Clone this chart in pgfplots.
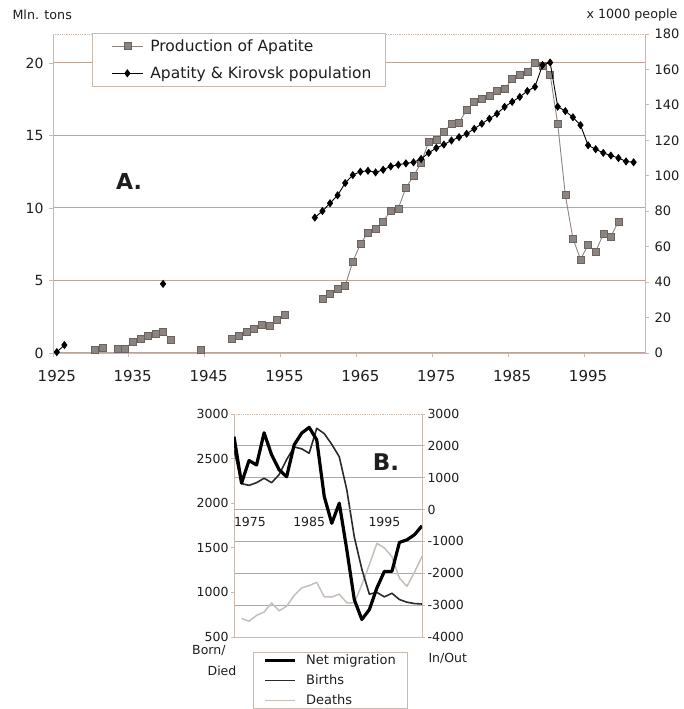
\documentclass[border=0pt]{standalone}
\usepackage{pgfplots}
\pgfplotsset{compat=1.18}
\usepackage{fontspec}
\setmainfont{DejaVu Sans}
\definecolor{gridc}{HTML}{B9A699}
\definecolor{axl}{HTML}{C9BAAF}
\definecolor{apa}{HTML}{8C8480}
\definecolor{apadark}{HTML}{6B6360}
\definecolor{deathc}{HTML}{C6BEB9}
\definecolor{birthc}{HTML}{2A2A2A}
\definecolor{txt}{HTML}{1E1E1E}
\tikzset{
  apastyle/.style={color=apa, line width=0.9pt, mark=square*, mark size=3.5pt, mark options={solid, fill=apa, draw=apadark, line width=0.5pt}},
  popstyle/.style={color=black, line width=0.9pt, mark=diamond*, mark size=3.4pt, mark options={solid, fill=black}},
  migstyle/.style={color=black, line width=3.2pt, line join=round},
  birthstyle/.style={color=birthc, line width=1.6pt, line join=round},
  deathstyle/.style={color=deathc, line width=1.5pt, line join=round},
}
\pgfplotsset{
  noarrows/.style={axis line style={-}, every inner x axis line/.append style={-}, every outer x axis line/.append style={-}, every inner y axis line/.append style={-}, every outer y axis line/.append style={-}},
  every axis/.append style={/pgf/number format/assume math mode=true, /pgf/number format/1000 sep={}},
}
\begin{document}
\begin{tikzpicture}
\path[use as bounding box] (0pt,0pt) rectangle (683pt,709pt);

% ---------------- Chart A ----------------
\begin{axis}[
  at={(53pt,356pt)}, anchor=south west,
  scale only axis, width=592pt, height=319pt,
  xmin=1924.5, xmax=2002.5, ymin=0, ymax=22,
  axis x line*=bottom, axis y line*=left, noarrows,
  axis line style={axl, line width=0.9pt},
  xtick={1924.5,1934.5,1944.5,1954.5,1964.5,1974.5,1984.5,1994.5},
  xticklabels={1925,1935,1945,1955,1965,1975,1985,1995},
  xticklabel style={font=\fontsize{15}{17}\selectfont, text=txt, xshift=3.8pt, yshift=-10pt},
  ytick={0,5,10,15,20},
  yticklabel style={font=\fontsize{14}{16}\selectfont, text=txt, xshift=-2pt},
  ymajorgrids, grid style={gridc, line width=1pt},
  tick style={axl, line width=0.8pt}, tick align=outside, major tick length=4pt,
  unbounded coords=jump,
]
\addplot[apastyle] table[row sep=\\] {
x y\\
1930 0.2\\ 1931 0.39\\ 1932 nan\\
1933 0.26\\ 1934 0.32\\ 1935 0.78\\ 1936 1.01\\ 1937 1.17\\ 1938 1.31\\ 1939 1.47\\ 1940 0.9\\ 1941 nan\\
1944 0.2\\ 1945 nan\\
1948 0.97\\ 1949 1.17\\ 1950 1.47\\ 1951 1.7\\ 1952 1.93\\ 1953 1.86\\ 1954 2.3\\ 1955 2.67\\ 1956 nan\\
1960 3.77\\ 1961 4.12\\ 1962 4.46\\ 1963 4.64\\ 1964 6.3\\ 1965 7.52\\ 1966 8.3\\ 1967 8.55\\ 1968 9.06\\ 1969 9.83\\
1970 9.98\\ 1971 11.4\\ 1972 12.2\\ 1973 13.1\\ 1974 14.58\\ 1975 14.72\\ 1976 15.25\\ 1977 15.8\\ 1978 15.9\\ 1979 16.76\\
1980 17.3\\ 1981 17.55\\ 1982 17.72\\ 1983 18.12\\ 1984 18.19\\ 1985 18.9\\ 1986 19.2\\ 1987 19.4\\ 1988 20.0\\ 1989 19.8\\
1990 19.2\\ 1991 15.8\\ 1992 10.9\\ 1993 7.9\\ 1994 6.46\\ 1995 7.45\\ 1996 6.99\\ 1997 8.2\\ 1998 8.02\\ 1999 9.06\\
};
\end{axis}

\begin{axis}[
  at={(53pt,356pt)}, anchor=south west,
  scale only axis, width=592pt, height=319pt,
  xmin=1924.5, xmax=2002.5, ymin=0, ymax=180,
  axis x line*=top, axis y line*=right, noarrows,
  x axis line style={axl, line width=0.8pt, densely dotted},
  y axis line style={axl, line width=0.9pt},
  xtick=\empty,
  ytick={0,20,...,180},
  yticklabel style={font=\fontsize{13}{15}\selectfont, text=txt, xshift=2pt},
  tick style={axl, line width=0.8pt}, tick align=outside, major tick length=4pt,
  unbounded coords=jump, clip=false,
  legend style={at={(rel axis cs:0.0659,1.003)}, anchor=north west, draw=axl, line width=0.8pt,
    font=\fontsize{15.5}{18}\selectfont, text=txt, inner xsep=12pt, inner ysep=4pt,
    nodes={inner sep=2pt}, row sep=10pt, column sep=5pt},
  legend cell align=left,
  legend image code/.code={\path (0pt,0pt); \draw[mark repeat=2,mark phase=2,#1] plot coordinates {(7pt,0pt) (22.5pt,0pt) (38pt,0pt)};},
]
\addlegendimage{apastyle}
\addlegendentry{Production of Apatite}
\addplot[popstyle] table[row sep=\\] {
x y\\
1925 0.5\\ 1926 4.5\\ 1927 nan\\
1939 39\\ 1940 nan\\
1959 76.4\\ 1960 80.1\\ 1961 84.5\\ 1962 89\\ 1963 95.9\\ 1964 100.4\\ 1965 102.3\\ 1966 102.8\\ 1967 101.9\\ 1968 103.4\\ 1969 105.3\\
1970 106.2\\ 1971 107\\ 1972 107.6\\ 1973 109.5\\ 1974 112.9\\ 1975 115.7\\ 1976 117.6\\ 1977 119.9\\ 1978 121.8\\ 1979 123.7\\
1980 126.5\\ 1981 129.4\\ 1982 132.2\\ 1983 135\\ 1984 138.9\\ 1985 141.7\\ 1986 144.5\\ 1987 147.8\\ 1988 150.2\\ 1989 162.5\\
1990 163.9\\ 1991 139\\ 1992 136.5\\ 1993 133\\ 1994 128.6\\ 1995 117.2\\ 1996 115\\ 1997 112.9\\ 1998 111.4\\ 1999 110\\
2000 108.1\\ 2001 107.6\\
};
\addlegendentry{Apatity \& Kirovsk population}
\end{axis}

\node[anchor=west, text=txt, font=\fontsize{12.7}{15}\selectfont] at (9pt,694pt) {Mln. tons};
\node[anchor=east, text=txt, font=\fontsize{12.7}{15}\selectfont] at (681pt,694pt) {x 1000 people};
\node[text=txt, font=\fontsize{22}{26}\bfseries] at (129pt,528pt) {A.};

% ---------------- Chart B ----------------
\begin{axis}[
  at={(234pt,72pt)}, anchor=south west,
  scale only axis, width=188pt, height=223pt,
  xmin=1975, xmax=2000, ymin=-4000, ymax=3000,
  axis x line*=bottom, axis y line*=left, noarrows,
  axis line style={axl, line width=0.9pt},
  xtick=\empty, ytick={-3000,-2000,...,2000}, yticklabels={},
  major tick length=0pt,
  ymajorgrids, grid style={gridc, line width=1pt},
]
\end{axis}

\begin{axis}[
  at={(234pt,72pt)}, anchor=south west,
  scale only axis, width=188pt, height=223pt,
  xmin=1975, xmax=2000, ymin=500, ymax=3000,
  axis x line*=top, axis y line*=left, noarrows,
  x axis line style={axl, line width=0.8pt, densely dotted},
  y axis line style={axl, line width=0.9pt},
  xtick=\empty, ytick={500,1000,...,3000},
  yticklabel style={font=\fontsize{12.5}{14}\selectfont, text=txt, xshift=1pt},
  tick style={axl, line width=0.8pt}, tick align=outside, major tick length=3pt,
  unbounded coords=jump,
]
\addplot[deathstyle] table[row sep=\\] {
x y\\
1976 708\\ 1977 677\\ 1978 742\\ 1979 780\\ 1980 882\\ 1981 793\\ 1982 845\\ 1983 966\\ 1984 1050\\ 1985 1076\\
1986 1113\\ 1987 951\\ 1988 948\\ 1989 981\\ 1990 883\\ 1991 882\\ 1992 1087\\ 1993 1311\\ 1994 1550\\ 1995 1498\\
1996 1400\\ 1997 1160\\ 1998 1068\\ 1999 1226\\ 2000 1404\\
};
\addplot[birthstyle] table[row sep=\\] {
x y\\
1975 2600\\ 1976 2220\\ 1977 2200\\ 1978 2230\\ 1979 2280\\ 1980 2230\\ 1981 2320\\ 1982 2490\\ 1983 2630\\ 1984 2610\\
1985 2560\\ 1986 2840\\ 1987 2780\\ 1988 2660\\ 1989 2520\\ 1990 2150\\ 1991 1620\\ 1992 1260\\ 1993 980\\ 1994 1000\\
1995 950\\ 1996 990\\ 1997 920\\ 1998 890\\ 1999 875\\ 2000 870\\
};
\end{axis}

\begin{axis}[
  at={(234pt,72pt)}, anchor=south west,
  scale only axis, width=188pt, height=223pt,
  xmin=1975, xmax=2000, ymin=-4000, ymax=3000,
  axis x line=middle, axis y line=right, noarrows,
  x axis line style={gridc, line width=1pt},
  y axis line style={axl, line width=0.9pt},
  xtick={1975,1985,1995},
  xticklabels={\makebox[0pt][l]{1975},1985,1995},
  xticklabel style={font=\fontsize{12.5}{14}\selectfont, text=txt, anchor=north, yshift=-1pt},
  x tick style={draw=none},
  ytick={-4000,-3000,...,3000},
  yticklabel style={font=\fontsize{12.5}{14}\selectfont, text=txt, xshift=-1pt},
  y tick style={axl, line width=0.8pt}, tick align=outside, major tick length=3pt,
  legend style={at={(rel axis cs:0.101,-0.0673)}, anchor=north west, draw=axl, line width=0.8pt,
    font=\fontsize{13}{15}\selectfont, text=txt, inner xsep=10pt, inner ysep=1pt,
    nodes={inner sep=1.5pt}, row sep=5.5pt, column sep=8pt},
  legend cell align=left,
  legend image code/.code={\draw[#1] (0pt,0pt) -- (30pt,0pt);},
]
\addplot[migstyle] table[row sep=\\] {
x y\\
1975 2290\\ 1976 830\\ 1977 1540\\ 1978 1400\\ 1979 2410\\ 1980 1720\\ 1981 1250\\ 1982 1030\\ 1983 2030\\ 1984 2400\\
1985 2580\\ 1986 2190\\ 1987 410\\ 1988 -430\\ 1989 200\\ 1990 -1260\\ 1991 -2830\\ 1992 -3450\\ 1993 -3140\\ 1994 -2460\\
1995 -1940\\ 1996 -1940\\ 1997 -1030\\ 1998 -950\\ 1999 -790\\ 2000 -510\\
};
\addlegendentry{Net migration}
\addlegendimage{birthstyle}
\addlegendentry{Births}
\addlegendimage{deathstyle}
\addlegendentry{Deaths}
\end{axis}

\node[text=txt, font=\fontsize{23}{27}\bfseries] at (386pt,247pt) {B.};
\node[anchor=east, text=txt, font=\fontsize{12.5}{14}\selectfont] at (229pt,58pt) {Born/};
\node[text=txt, font=\fontsize{12.5}{14}\selectfont] at (222pt,38pt) {Died};
\node[anchor=west, text=txt, font=\fontsize{12.5}{14}\selectfont] at (425pt,51pt) {In/Out};
\end{tikzpicture}
\end{document}
